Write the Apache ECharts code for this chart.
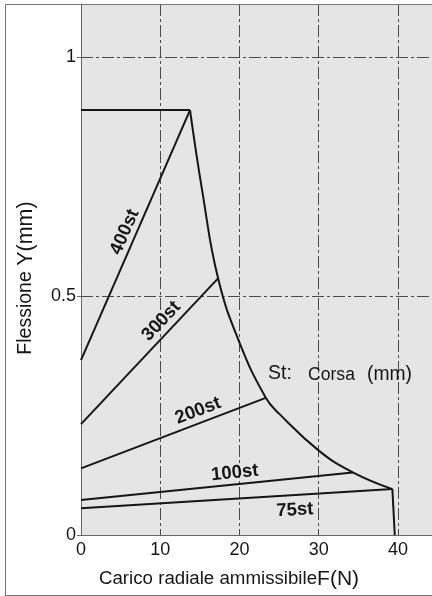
<!DOCTYPE html>
<html><head><meta charset="utf-8">
<script src="https://cdn.jsdelivr.net/npm/echarts@6/dist/echarts.min.js"></script>
<style>
html,body{margin:0;padding:0;background:#fff;width:432px;height:596px;overflow:hidden}
#c{position:absolute;left:0;top:0;width:432px;height:596px}
#frame{position:absolute;left:5px;top:4px;width:520px;height:592px;border:1px solid #777;box-sizing:border-box;pointer-events:none;z-index:5}
</style></head>
<body><div id="c"></div><div id="frame"></div>
<script>
// ---- data ----
const xTicks = [0, 10, 20, 30, 40];
const yTicks = [0, 0.5, 1];
const strokeNames  = ['400st', '300st', '200st', '100st', '75st'];
const strokeStartY = [0.366, 0.232, 0.1395, 0.073, 0.056];
const strokeEndF   = [13.76, 17.30, 23.32, 34.3, 39.3];
const strokeEndY   = [0.889, 0.537, 0.287, 0.131, 0.096];
const limitF = [13.76, 15.32, 17.30, 20.04, 23.32, 25.0, 30.05, 34.3, 39.3];
const limitY = [0.889, 0.718, 0.537, 0.401, 0.287, 0.254, 0.176, 0.131, 0.096];
const capF  = [0, 13.76];  const capY  = [0.889, 0.889];
const dropF = [39.3, 39.6]; const dropY = [0.096, 0];
const xAxisTitle = 'Carico radiale ammissibile';
const xAxisUnit = 'F(N)';
const yAxisTitle = 'Flessione';
const yAxisUnit = 'Y(mm)';

// ---- styles ----
const FONT = "'Liberation Sans', Arial, Helvetica, sans-serif";
const INK = '#161616';
const labelT    = [0.495, 0.65, 0.657, 0.57, 0.684];
const labelPerp = [11, 12, 12, 11.5, -15];

const zip = (a, b) => a.map((v, i) => [v, b[i]]);
const lineSeries = (name, data, smooth) => ({
  type: 'line', name, data, symbol: 'none', smooth: smooth || false,
  lineStyle: { color: INK, width: 2 }, silent: true, animation: false, z: 3
});

const series = [];
strokeNames.forEach((n, i) => {
  series.push(lineSeries(n, [[0, strokeStartY[i]], [strokeEndF[i], strokeEndY[i]]]));
});
series.push(lineSeries('limit', zip(limitF, limitY), 0.45));
series.push(lineSeries('cap', zip(capF, capY)));
series.push(lineSeries('drop', zip(dropF, dropY)));

const chart = echarts.init(document.getElementById('c'), null, { renderer: 'canvas' });
const gridLine = { show: true, lineStyle: { color: '#4a4a4a', width: 1, type: [12, 3, 3, 3] } };

chart.setOption({
  animation: false,
  backgroundColor: '#ffffff',
  grid: { left: 81, right: 0, top: 4, bottom: 61, show: true, backgroundColor: '#e5e5e5', borderWidth: 0, containLabel: false, outerBoundsMode: 'none' },
  xAxis: {
    type: 'value', min: 0, max: 44.3, interval: 10,
    axisLine: { show: true, lineStyle: { color: '#666', width: 1 } },
    axisTick: { show: false },
    splitLine: gridLine,
    axisLabel: { show: true, showMaxLabel: false, margin: 6, color: INK, fontSize: 18, fontFamily: FONT,
      formatter: v => xTicks.indexOf(v) >= 0 ? String(v) : '' },
    name: '{a|' + xAxisTitle + '}{b|' + xAxisUnit + '}',
    nameLocation: 'middle', nameGap: 32,
    nameTextStyle: { padding: [0, 55, 0, 0], rich: {
      a: { fontSize: 18.7, fontFamily: FONT, color: INK, lineHeight: 24 },
      b: { fontSize: 21, fontFamily: FONT, color: INK, lineHeight: 24 } } }
  },
  yAxis: {
    type: 'value', min: 0, max: 1.111, interval: 0.5,
    axisLine: { show: true, lineStyle: { color: '#666', width: 1 } },
    axisTick: { show: true, length: 4, lineStyle: { color: '#666' } },
    splitLine: gridLine,
    axisLabel: { show: true, showMaxLabel: false, margin: 5, color: INK, fontSize: 18, fontFamily: FONT,
      formatter: v => yTicks.indexOf(v) >= 0 ? String(v) : '' },
    name: '{a|' + yAxisTitle + ' }{b|' + yAxisUnit + '}',
    nameLocation: 'middle', nameRotate: 90, nameGap: 42,
    nameTextStyle: { padding: [0, 17, 0, 0], rich: {
      a: { fontSize: 19.5, fontFamily: FONT, color: INK, lineHeight: 26 },
      b: { fontSize: 21.5, fontFamily: FONT, color: INK, lineHeight: 26 } } }
  },
  series
});

// labels along the stroke lines, positioned through the chart's own scales
const graphics = [];
strokeNames.forEach((n, i) => {
  const p0 = chart.convertToPixel({ gridIndex: 0 }, [0, strokeStartY[i]]);
  const p1 = chart.convertToPixel({ gridIndex: 0 }, [strokeEndF[i], strokeEndY[i]]);
  const dx = p1[0] - p0[0], dy = p1[1] - p0[1];
  const len = Math.hypot(dx, dy);
  const ux = dx / len, uy = dy / len;
  const nx = uy, ny = -ux;
  const t = labelT[i], d = labelPerp[i];
  const cx = p0[0] + dx * t + nx * d;
  const cy = p0[1] + dy * t + ny * d;
  graphics.push({
    type: 'text', x: cx, y: cy, rotation: Math.atan2(-dy, dx), z: 10,
    style: { text: n, fill: INK, font: 'bold 18.5px ' + FONT, align: 'center', verticalAlign: 'middle' }
  });
});
graphics.push({ type: 'text', x: 268, y: 384, z: 10, style: { text: 'St:', fill: INK, font: '19.5px ' + FONT, verticalAlign: 'bottom' } });
graphics.push({ type: 'text', x: 308, y: 384, z: 10, style: { text: 'Corsa', fill: INK, font: '17.6px ' + FONT, verticalAlign: 'bottom' } });
graphics.push({ type: 'text', x: 367, y: 384, z: 10, style: { text: '(mm)', fill: INK, font: '19.3px ' + FONT, verticalAlign: 'bottom' } });
chart.setOption({ graphic: graphics });
</script>
</body></html>
